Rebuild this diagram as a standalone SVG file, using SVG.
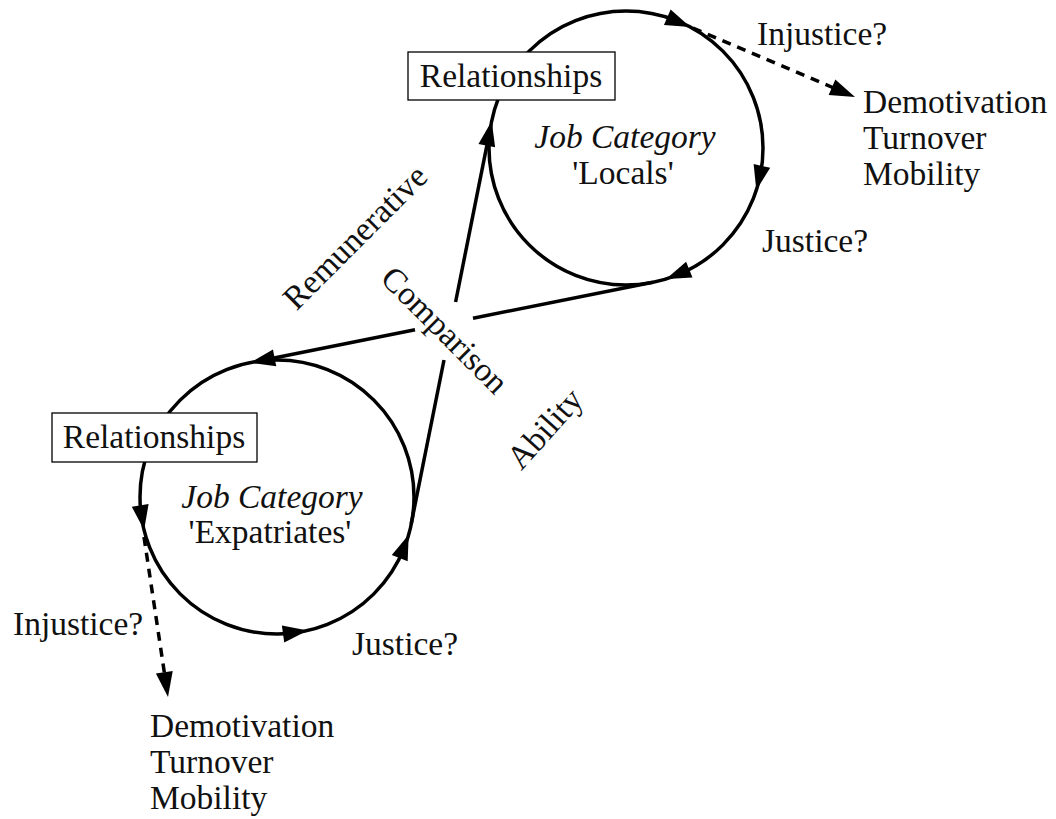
<svg xmlns="http://www.w3.org/2000/svg" xmlns:xlink="http://www.w3.org/1999/xlink" width="1056" height="819" viewBox="0 0 1056 819">
  <style>
    text { font-family: "Liberation Serif", "Times New Roman", serif; font-size: 33.5px; fill: #111; }
    .it { font-style: italic; }
    .mid { text-anchor: middle; }
    .loop { fill: none; stroke: #000; stroke-width: 3.5; }
    .link { fill: none; stroke: #000; stroke-width: 3.5; }
    .dash { fill: none; stroke: #000; stroke-width: 3.5; stroke-dasharray: 9 7; }
    .box { fill: #fff; stroke: #000; stroke-width: 1.3; }
    .head { fill: #000; }
  </style>
  <defs>
    <!-- arrowhead, tip at origin pointing along +x -->
    <path id="ah" d="M0,0 L-25,-8.5 L-25,8.5 Z"/>
  </defs>
  <rect width="1056" height="819" fill="#fff"/>

  <!-- crossing links between the two loops -->
  <g id="connectors">
    <line class="link" x1="455.6" y1="302.0" x2="489.7" y2="131.3"/>
    <line class="link" x1="444.0" y1="360.0" x2="411.2" y2="523.8"/>
    <line class="link" x1="473.0" y1="318.2" x2="652.8" y2="282.2"/>
    <line class="link" x1="415.0" y1="329.8" x2="260.3" y2="360.7"/>
    <use href="#ah" class="head" transform="translate(491.7,121.1) rotate(-78.7)"/>
    <use href="#ah" class="head" transform="translate(250.1,362.7) rotate(168.7)"/>
    <!-- dashed outcome arrows -->
    <line class="dash" x1="693" y1="28" x2="836.6" y2="89.2"/>
    <use href="#ah" class="head" transform="translate(855,97) rotate(23)"/>
    <line class="dash" x1="144" y1="537" x2="165" y2="677"/>
    <use href="#ah" class="head" transform="translate(168,697) rotate(81.5)"/>
  </g>

  <!-- upper loop -->
  <g id="loop-locals">
    <circle class="loop" cx="626" cy="148" r="137"/>
    <use href="#ah" class="head" transform="translate(690.3,27.0) rotate(23)"/>
    <use href="#ah" class="head" transform="translate(756.3,190.3) rotate(103)"/>
    <use href="#ah" class="head" transform="translate(666.1,279.0) rotate(158)"/>
    <text class="it mid" x="625" y="148">Job Category</text>
    <text class="mid" x="623" y="184">'Locals'</text>
  </g>

  <g id="rel-locals">
    <rect class="box" x="408" y="52" width="207" height="48"/>
    <text class="mid" x="511" y="87">Relationships</text>
  </g>

  <!-- lower loop -->
  <g id="loop-expatriates">
    <circle class="loop" cx="277" cy="497" r="137"/>
    <use href="#ah" class="head" transform="translate(144.1,530.1) rotate(81)"/>
    <use href="#ah" class="head" transform="translate(307.8,630.5) rotate(-8)"/>
    <use href="#ah" class="head" transform="translate(408.7,534.8) rotate(-69)"/>
    <text class="it mid" x="272" y="508">Job Category</text>
    <text class="mid" x="270" y="543">'Expatriates'</text>
  </g>

  <g id="rel-expatriates">
    <rect class="box" x="52" y="413" width="205" height="49"/>
    <text class="mid" x="154" y="448">Relationships</text>
  </g>

  <!-- comparison labels -->
  <g id="comparison">
    <text class="mid" transform="translate(363,245) rotate(-45)">Remunerative</text>
    <text class="mid" transform="translate(437,338) rotate(45)">Comparison</text>
    <text class="mid" transform="translate(553,436) rotate(-48)">Ability</text>
  </g>

  <!-- outcomes -->
  <g id="outcome-locals">
    <text x="757" y="45">Injustice?</text>
    <text x="762" y="252">Justice?</text>
    <text x="863" y="113">Demotivation</text>
    <text x="863" y="149">Turnover</text>
    <text x="863" y="185">Mobility</text>
  </g>

  <g id="outcome-expatriates">
    <text x="13" y="635">Injustice?</text>
    <text x="352" y="655">Justice?</text>
    <text x="150" y="737">Demotivation</text>
    <text x="150" y="773">Turnover</text>
    <text x="150" y="809">Mobility</text>
  </g>
</svg>
